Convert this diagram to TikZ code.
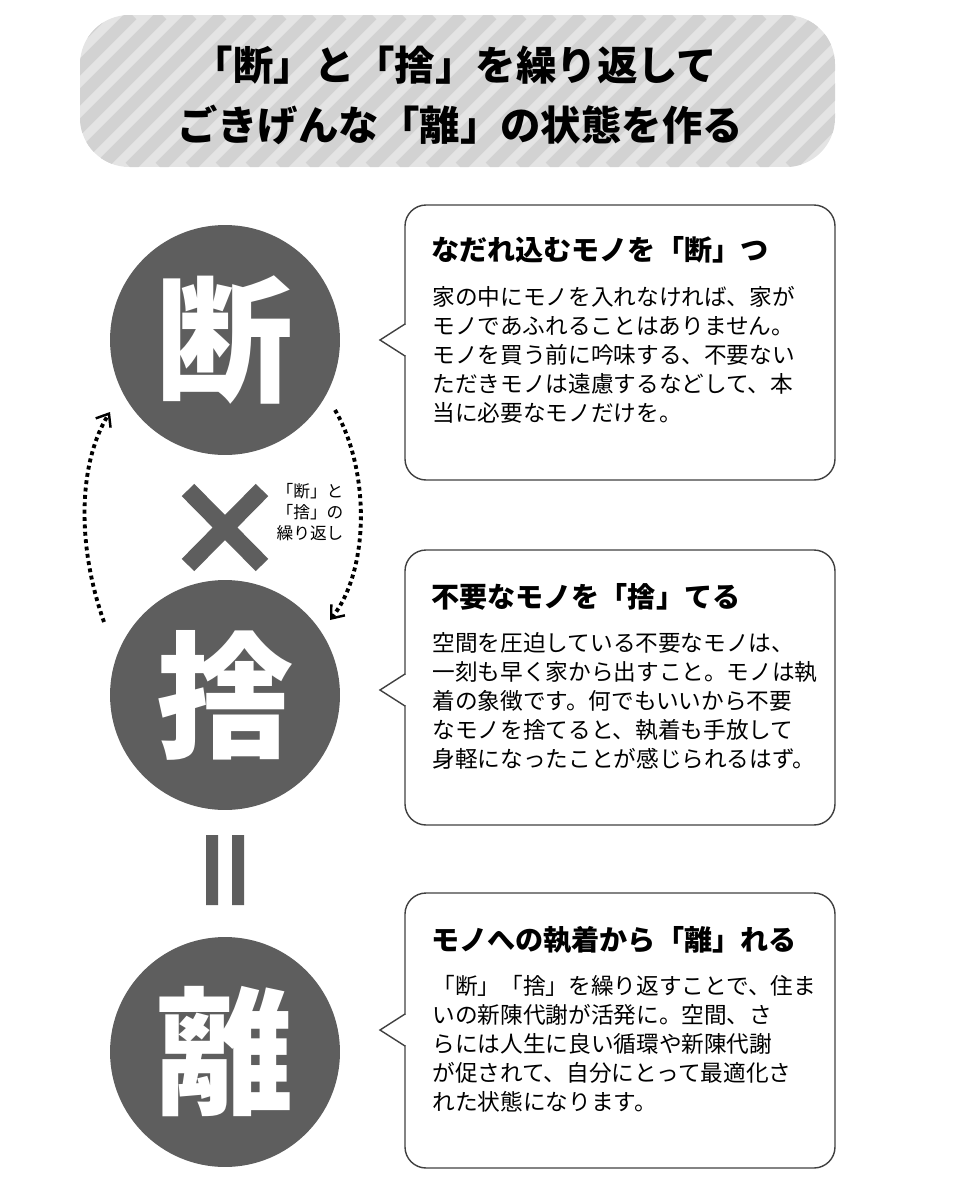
\documentclass[tikz,border=0pt]{standalone}
\usepackage{fontspec}
\setmainfont{Noto Sans CJK JP}
\usetikzlibrary{arrows.meta}
\definecolor{circgray}{HTML}{5E5E5E}
\definecolor{stripeA}{HTML}{E4E4E4}
\definecolor{stripeB}{HTML}{D2D2D2}
\tikzset{
  bigchar/.style={circle, fill=circgray, text=white, minimum size=4.6cm, inner sep=0pt,
    font=\fontsize{78}{80}\selectfont\bfseries},
  boxtitle/.style={anchor=west, font=\fontsize{16}{18}\selectfont\bfseries},
  boxline/.style={anchor=west, font=\fontsize{12.9}{15}\selectfont, inner sep=0pt},
  speech/.style={draw=black!75, line width=0.8pt},
  loop/.style={dotted, line width=2.2pt, -{Straight Barb[length=2.2mm,width=3.5mm,line width=1.4pt]}}
}
\newcommand{\speechbox}[3]{% top, bottom, pointer y
  \draw[speech, rounded corners=12] (405,#1) rectangle (835,#2);
  \fill[white] (402,#3-15) rectangle (408,#3+15);
  \draw[speech] (405,#3-16) -- (380,#3) -- (405,#3+16);}
\begin{document}
\begin{tikzpicture}[x=0.02cm,y=-0.02cm]
  \useasboundingbox (0,0) rectangle (955,1200);

  % title box
  \begin{scope}
    \clip[rounded corners=28] (80,15) rectangle (835,167);
    \fill[stripeA] (80,15) rectangle (835,167);
    \foreach \i in {-200,-170,...,900}
      \draw[stripeB, line width=7pt] (\i,167) -- (\i+152,15);
  \end{scope}
  \node (title1) at (455,65) {\fontsize{23}{26}\selectfont\bfseries「断」と「捨」を繰り返して};
  \node (title2) at (460,125) {\fontsize{23}{26}\selectfont\bfseries ごきげんな「離」の状態を作る};

  % circles
  \node[bigchar] (dan) at (225,340) {断};
  \node[bigchar] (sha) at (225,695) {捨};
  \node[bigchar] (ri) at (225,1052) {離};

  % times and equals
  \draw[circgray, line width=10pt] (188,490) -- (262,565) (262,490) -- (188,565);
  \fill[circgray] (206,835) rectangle (218,905) (232,835) rectangle (244,905);

  % loop arrows
  \coordinate (lstart) at (104,622);
  \coordinate (lend) at (110,412);
  \coordinate (rstart) at (335,410);
  \coordinate (rend) at (330,620);
  \draw[loop] (lstart) .. controls (75,540) and (80,460) .. (lend);
  \draw[loop] (rstart) .. controls (370,470) and (370,570) .. (rend);
  \node[align=center, font=\fontsize{9.5}{12}\selectfont, inner sep=0pt] (looplabel) at (310,512)
    {「断」と\\「捨」の\\繰り返し};

  % boxes
  \speechbox{205}{480}{340}
  \speechbox{550}{825}{690}
  \speechbox{893}{1168}{1030}

  \node[boxtitle] (t1) at (425,250) {なだれ込むモノを「断」つ};
  \foreach \s [count=\k] in {家の中にモノを入れなければ、家が,
      モノであふれることはありません。,
      モノを買う前に吟味する、不要ない,
      ただきモノは遠慮するなどして、本,
      当に必要なモノだけを。}
    \node[boxline] (a\k) at (432,268+29*\k) {\s};

  \node[boxtitle] (t2) at (425,597) {不要なモノを「捨」てる};
  \foreach \s [count=\k] in {空間を圧迫している不要なモノは、,
      一刻も早く家から出すこと。モノは執,
      着の象徴です。何でもいいから不要,
      なモノを捨てると、執着も手放して,
      身軽になったことが感じられるはず。}
    \node[boxline] (b\k) at (432,614+29*\k) {\s};

  \node[boxtitle] (t3) at (425,940) {モノへの執着から「離」れる};
  \foreach \s [count=\k] in {「断」「捨」を繰り返すことで、住ま,
      いの新陳代謝が活発に。空間、さ,
      らには人生に良い循環や新陳代謝,
      が促されて、自分にとって最適化さ,
      れた状態になります。}
    \node[boxline] (c\k) at (432,957+29*\k) {\s};
\end{tikzpicture}
\end{document}
